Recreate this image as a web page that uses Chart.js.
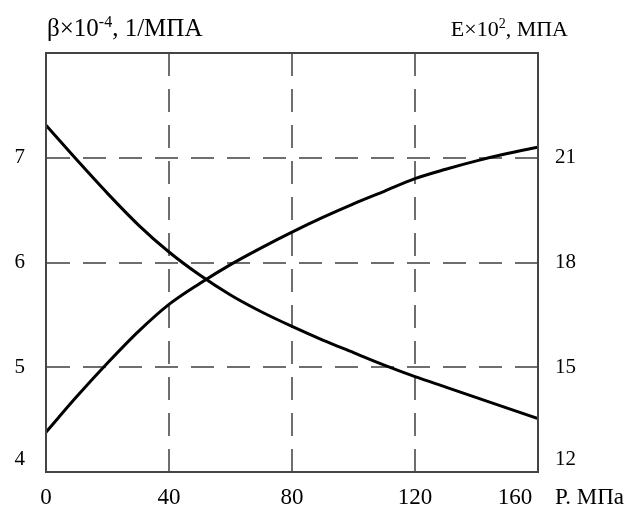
<!DOCTYPE html>
<html>
<head>
<meta charset="utf-8">
<script src="https://cdn.jsdelivr.net/npm/chart.js@4/dist/chart.umd.min.js"></script>
<style>
  html, body { margin: 0; padding: 0; background: #fff; }
  #wrap { width: 638px; height: 510px; }
</style>
</head>
<body>
<div id="wrap"><canvas id="chart" width="638" height="510"></canvas></div>
<script>
'use strict';

// pressure, MPa
var pressure = [0, 10, 20, 30, 40, 50, 60, 70, 80, 90, 100, 110, 120, 130, 140, 150, 160];
// compressibility beta x10^-4, 1/MPa (left axis)
var betaValues = [7.31, 6.98, 6.66, 6.36, 6.10, 5.88, 5.69, 5.53, 5.39, 5.26, 5.14, 5.02, 4.91, 4.81, 4.71, 4.61, 4.51];
// modulus E x10^2, MPa (right axis)
var modulusValues = [13.14, 14.16, 15.12, 16.02, 16.80, 17.40, 17.94, 18.42, 18.87, 19.29, 19.68, 20.04, 20.40, 20.67, 20.91, 21.12, 21.30];

var leftTitle = ['β×10', '-4', ', 1/МПА'];
var rightTitle = ['E×10', '2', ', МПА'];
var xTitle = 'P. МПа';

var SERIF = '"Liberation Serif", "Times New Roman", serif';
var gridColor = '#6e6e6e';
var frameColor = '#444';

function toPoints(ys) {
  return pressure.map(function(p, i) {
    return { x: p, y: ys[i] };
  });
}

// hide grid lines that fall on the frame
function innerGrid(first, last) {
  return function(c) {
    if (c.tick && (c.tick.value === first || c.tick.value === last)) {
      return 'rgba(0,0,0,0)';
    }
    return gridColor;
  };
}

// draw a piece of text with a superscript in the middle
function drawSup(ctx, parts, x, y, size, alignRight) {
  var small = Math.round(size * 0.62);
  ctx.font = size + 'px ' + SERIF;
  var w0 = ctx.measureText(parts[0]).width;
  var w2 = ctx.measureText(parts[2]).width;
  ctx.font = small + 'px ' + SERIF;
  var w1 = ctx.measureText(parts[1]).width;
  if (alignRight) {
    x = x - (w0 + w1 + w2);
  }
  ctx.textAlign = 'left';
  ctx.textBaseline = 'alphabetic';
  ctx.font = size + 'px ' + SERIF;
  ctx.fillText(parts[0], x, y);
  ctx.font = small + 'px ' + SERIF;
  ctx.fillText(parts[1], x + w0, y - size * 0.38);
  ctx.font = size + 'px ' + SERIF;
  ctx.fillText(parts[2], x + w0 + w1, y);
}

var textPlugin = {
  id: 'texts',
  afterDraw: function(chart) {
    var ctx = chart.ctx;
    var area = chart.chartArea;
    var xs = chart.scales.x;
    ctx.save();
    ctx.fillStyle = '#000';

    // frame
    ctx.strokeStyle = frameColor;
    ctx.lineWidth = 2;
    ctx.strokeRect(area.left, area.top, area.right - area.left, area.bottom - area.top);

    drawSup(ctx, leftTitle, area.left + 1, 36, 25, false);
    drawSup(ctx, rightTitle, area.right + 30, 36, 22, true);

    // axis name next to the last tick label
    ctx.font = '23px ' + SERIF;
    ctx.textAlign = 'left';
    ctx.textBaseline = 'middle';
    ctx.fillText(xTitle, xs.getPixelForValue(160) + 17, xs.top + 12 + 23 * 1.2 / 2);
    ctx.restore();
  }
};

var ctx = document.getElementById('chart');
var myChart = new Chart(ctx, {
  type: 'line',
  data: {
    datasets: [
      {
        label: 'beta',
        data: toPoints(betaValues),
        yAxisID: 'y',
        borderColor: '#000',
        borderWidth: 3,
        pointRadius: 0,
        fill: false,
        cubicInterpolationMode: 'monotone'
      },
      {
        label: 'E',
        data: toPoints(modulusValues),
        yAxisID: 'y2',
        borderColor: '#000',
        borderWidth: 3,
        pointRadius: 0,
        fill: false,
        cubicInterpolationMode: 'monotone'
      }
    ]
  },
  options: {
    responsive: false,
    animation: false,
    events: [],
    layout: { padding: { top: 53, left: 0, right: 0, bottom: 0 } },
    plugins: {
      legend: { display: false },
      tooltip: { enabled: false }
    },
    scales: {
      x: {
        type: 'linear',
        min: 0,
        max: 160,
        afterFit: function(scale) {
          scale.height = 38;
          scale.paddingLeft = 0;
          scale.paddingRight = 0;
        },
        ticks: {
          stepSize: 40,
          autoSkip: false,
          maxRotation: 0,
          padding: 12,
          color: '#000',
          font: { family: SERIF, size: 23 },
          callback: function(v) {
            // trailing em spaces push "160" left, like the original
            return v === 160 ? '160\u2003\u2003' : String(v);
          }
        },
        grid: { drawTicks: false, lineWidth: 2, color: innerGrid(0, 160) },
        border: { color: frameColor, width: 2, dash: [23, 13] }
      },
      y: {
        position: 'left',
        min: 4,
        max: 8,
        afterFit: function(scale) {
          scale.width = 46;
          scale.paddingTop = 0;
          scale.paddingBottom = 0;
        },
        ticks: {
          stepSize: 1,
          padding: 21,
          color: '#000',
          font: { family: SERIF, size: 21 },
          callback: function(v) {
            if (v === 8) return '';
            if (v === 4) return ['4', ''];
            return String(v);
          }
        },
        grid: { drawTicks: false, lineWidth: 2, color: innerGrid(4, 8) },
        border: { color: frameColor, width: 2, dash: [23, 13] }
      },
      y2: {
        position: 'right',
        min: 12,
        max: 24,
        afterFit: function(scale) {
          scale.width = 100;
          scale.paddingTop = 0;
          scale.paddingBottom = 0;
        },
        ticks: {
          stepSize: 3,
          padding: 17,
          color: '#000',
          font: { family: SERIF, size: 21 },
          callback: function(v) {
            if (v === 24) return '';
            if (v === 12) return ['12', ''];
            return String(v);
          }
        },
        grid: { drawOnChartArea: false, drawTicks: false },
        border: { color: frameColor, width: 2 }
      }
    }
  },
  plugins: [textPlugin]
});
</script>
</body>
</html>
